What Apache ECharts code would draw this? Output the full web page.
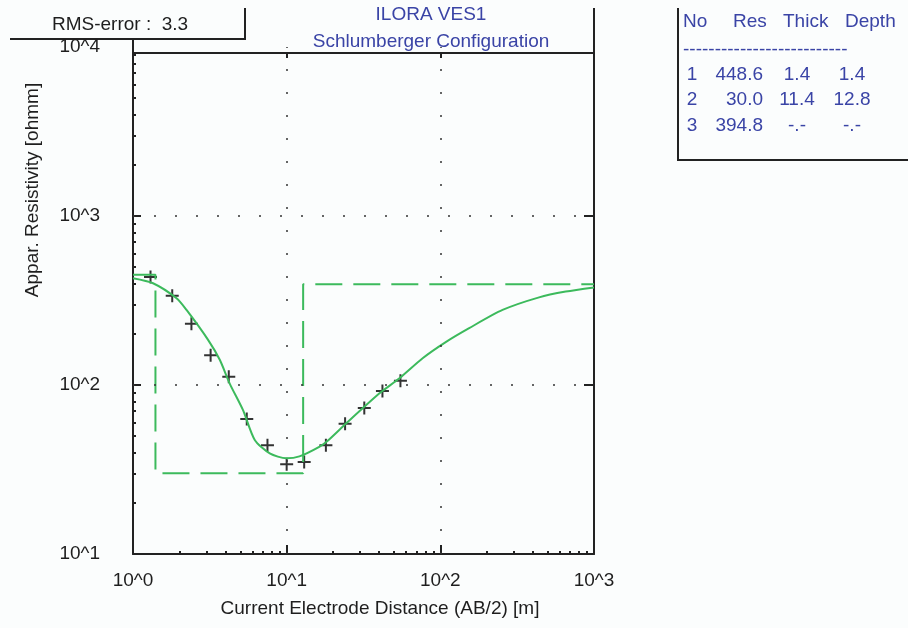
<!DOCTYPE html>
<html>
<head>
<meta charset="utf-8">
<title>ILORA VES1</title>
<script src="https://cdn.jsdelivr.net/npm/echarts@6/dist/echarts.min.js"></script>
<style>
html, body { margin: 0; padding: 0; background: #fbfdfd; }
#chart { width: 908px; height: 628px; }
</style>
</head>
<body>
<div id="chart"></div>
<script>
// measured points: AB/2 [m] and apparent resistivity [ohmm]
var abHalf = [1.3, 1.8, 2.4, 3.2, 4.2, 5.5, 7.5, 10, 13, 18, 24, 32, 42, 55];
var appRes = [435, 337, 230, 150, 112, 63, 44, 34, 35, 44, 59, 73, 92, 106];

// calculated curve of the model
var fitAb = [1, 1.35, 1.92, 2.23, 3.08, 3.67, 4.26, 5.2, 6.2, 7.76, 9.95, 12.1, 16.4, 18.5, 24.4, 40.2, 54.2, 76.7, 109, 154, 254, 439, 655, 1000];
var fitRes = [428, 400, 326, 278, 185, 141, 102, 71, 47.3, 39.4, 36.8, 37.8, 43.2, 46.8, 59.3, 89.3, 109.6, 144, 180, 217, 278, 330, 357, 378];

// layer model (table on the right)
var layerNo = [1, 2, 3];
var layerRes = [448.6, 30.0, 394.8];
var layerThick = [1.4, 11.4, null];
var layerDepth = [1.4, 12.8, null];
var rmsError = 3.3;

// axis ticks
var xMinor = [2, 3, 4, 5, 6, 7, 8, 9, 20, 30, 40, 50, 60, 70, 80, 90, 200, 300, 400, 500, 600, 700, 800, 900];
var yMinor = [20, 30, 40, 50, 60, 70, 80, 90, 200, 300, 400, 500, 600, 700, 800, 900, 2000, 3000, 4000, 5000, 6000, 7000, 8000, 9000];

var green = '#3cba5c';
var blue = '#3a44a6';
var ink = '#1e1e1e';
var font = 'Liberation Sans';

var chart = echarts.init(document.getElementById('chart'), null, { renderer: 'canvas' });

function powLabel(v) {
  return '10^' + Math.round(Math.log10(v));
}

// step line of the model: res of each layer down to its depth
var modelData = [];
var x0 = 1;
for (var i = 0; i < layerRes.length; i++) {
  modelData.push([x0, layerRes[i]]);
  if (layerDepth[i] != null) x0 = layerDepth[i];
}
modelData.push([1000, layerRes[layerRes.length - 1]]);

var fitData = fitAb.map(function (x, i) { return [x, fitRes[i]]; });
var obsData = abHalf.map(function (x, i) { return [x, appRes[i]]; });

function fmt(v) {
  return v == null ? '-.-' : v.toFixed(1);
}

function txt(x, y, s, align, color) {
  return {
    type: 'text', x: x, y: y, silent: true,
    style: { text: s, fill: color || blue, font: '19px "' + font + '"', align: align || 'left', verticalAlign: 'middle' }
  };
}

function seg(points) {
  return {
    type: 'polyline', silent: true,
    shape: { points: points },
    style: { stroke: '#222', lineWidth: 2, fill: null }
  };
}

var graphics = [
  seg([[10, 39], [245, 39], [245, 8]]),
  seg([[133, 39], [133, 48]]),
  seg([[594, 8], [594, 48]]),
  seg([[678, 8], [678, 160], [908, 160]]),
  txt(52, 25, 'RMS-error :  ' + rmsError.toFixed(1), 'left', ink),
  txt(431, 15, 'ILORA VES1', 'center'),
  txt(431, 42, 'Schlumberger Configuration', 'center'),
  txt(683, 22, 'No'),
  txt(733, 22, 'Res'),
  txt(783, 22, 'Thick'),
  txt(845, 22, 'Depth'),
  txt(683, 50, '--------------------------'),
  {
    type: 'text', x: 33, y: 190, rotation: Math.PI / 2, silent: true,
    style: { text: 'Appar. Resistivity [ohmm]', fill: ink, font: '19px "' + font + '"', align: 'center', verticalAlign: 'middle' }
  }
];
var rowY = [75, 100, 126];
for (var r = 0; r < layerNo.length; r++) {
  graphics.push(txt(692, rowY[r], String(layerNo[r]), 'center'));
  graphics.push(txt(763, rowY[r], fmt(layerRes[r]), 'right'));
  graphics.push(txt(797, rowY[r], fmt(layerThick[r]), 'center'));
  graphics.push(txt(852, rowY[r], fmt(layerDepth[r]), 'center'));
}

var axisLine = { show: true, onZero: false, lineStyle: { color: '#222', width: 2 } };
var noLabel = { show: false };

var option = {
  backgroundColor: '#fbfdfd',
  animation: false,
  textStyle: { fontFamily: font },
  grid: { left: 133, right: 314, top: 47, bottom: 74 },
  xAxis: [{
    type: 'log', logBase: 10, min: 1, max: 1000,
    axisLine: axisLine,
    axisTick: { inside: true, length: 9, lineStyle: { color: '#222', width: 2 } },
    axisLabel: { formatter: powLabel, color: ink, fontSize: 19, margin: 17 },
    splitLine: { show: false },
    name: 'Current Electrode Distance (AB/2) [m]',
    nameLocation: 'middle', nameGap: 45,
    nameTextStyle: { color: ink, fontSize: 19, padding: [0, 0, 0, 33] }
  }, {
    // minor ticks
    type: 'log', logBase: 10, min: 1, max: 1000, position: 'bottom',
    axisLine: { show: false, onZero: false },
    axisTick: { inside: true, length: 3, customValues: xMinor, lineStyle: { color: '#222', width: 2 } },
    axisLabel: noLabel, splitLine: { show: false }
  }, {
    // top border
    type: 'log', logBase: 10, min: 1, max: 1000, position: 'top', offset: -6,
    axisLine: axisLine,
    axisTick: { inside: true, length: 5, customValues: [10, 100], lineStyle: { color: '#222', width: 2 } },
    axisLabel: noLabel, splitLine: { show: false }
  }],
  yAxis: [{
    type: 'log', logBase: 10, min: 10, max: 10000,
    axisLine: axisLine,
    axisTick: { inside: true, length: 8, customValues: [100, 1000], lineStyle: { color: '#222', width: 2 } },
    axisLabel: { formatter: powLabel, color: ink, fontSize: 19, margin: 33 },
    splitLine: { show: false }
  }, {
    type: 'log', logBase: 10, min: 10, max: 10000, position: 'left',
    axisLine: { show: false, onZero: false },
    axisTick: { inside: true, length: 3, customValues: yMinor, lineStyle: { color: '#222', width: 2 } },
    axisLabel: noLabel, splitLine: { show: false }
  }, {
    type: 'log', logBase: 10, min: 10, max: 10000, position: 'right',
    axisLine: axisLine,
    axisTick: { inside: true, length: 10, customValues: [100, 1000], lineStyle: { color: '#222', width: 2 } },
    axisLabel: noLabel, splitLine: { show: false }
  }],
  graphic: graphics,
  series: [{
    name: 'model',
    type: 'line',
    step: 'end',
    data: modelData,
    showSymbol: false,
    lineStyle: { color: green, width: 2, type: [27, 11] },
    markLine: {
      silent: true, symbol: 'none', label: { show: false },
      data: [
        { xAxis: 10, lineStyle: { color: '#333', width: 1.5, type: [2, 21] } },
        { xAxis: 100, lineStyle: { color: '#333', width: 1.5, type: [2, 21] } },
        { yAxis: 100, lineStyle: { color: '#333', width: 1.5, type: [2, 19] } },
        { yAxis: 1000, lineStyle: { color: '#333', width: 1.5, type: [2, 19] } }
      ]
    }
  }, {
    name: 'calculated',
    type: 'line',
    data: fitData,
    smooth: 0.25,
    showSymbol: false,
    lineStyle: { color: green, width: 2 }
  }, {
    name: 'measured',
    type: 'scatter',
    data: obsData,
    symbol: 'path://M5.5,0h2v13h-2zM0,5.5h13v2h-13z',
    symbolSize: 13,
    itemStyle: { color: '#000' }
  }]
};

chart.setOption(option);
</script>
</body>
</html>
